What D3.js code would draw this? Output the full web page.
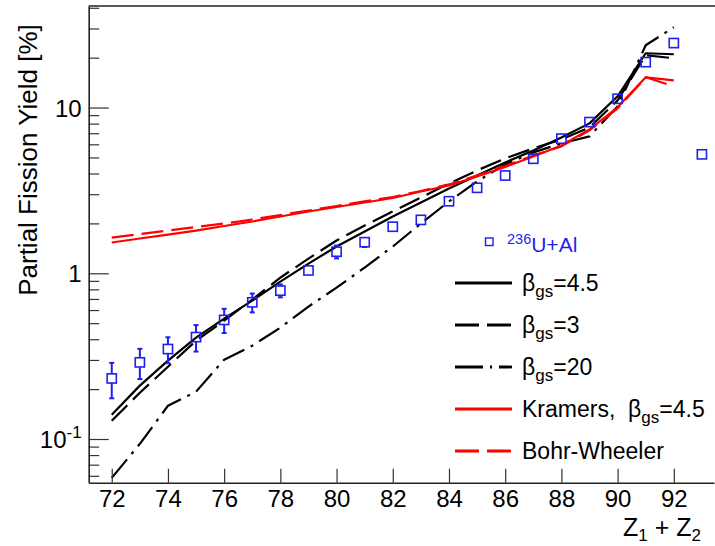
<!DOCTYPE html>
<html>
<head>
<meta charset="utf-8">
<script src="https://cdn.jsdelivr.net/npm/d3@7"></script>
<style>
  body { margin: 0; background: #fff; }
  svg { display: block; font-family: "Liberation Sans", Arial, sans-serif; }
</style>
</head>
<body>
<svg id="chart" width="715" height="546"></svg>
<script>
// Z1 + Z2 of the model curves
const modelCharges = [72, 73, 74, 75, 76, 77, 78, 79, 80, 81, 82, 83, 84, 85, 86, 87, 88, 89, 90, 91, 92];
// Z1 + Z2 of the measured points
const dataCharges = [72, 73, 74, 75, 76, 77, 78, 79, 80, 81, 82, 83, 84, 85, 86, 87, 88, 89, 90, 91, 92, 93];

// 236U+Al partial fission yields [%] and their errors
const measured = [0.232, 0.290, 0.349, 0.412, 0.523, 0.668, 0.786, 1.04, 1.35, 1.54, 1.91, 2.10, 2.72, 3.28, 3.89, 4.91, 6.49, 8.17, 11.3, 18.8, 24.5, 5.22];
const measuredErr = [0.056, 0.060, 0.062, 0.075, 0.087, 0.087, 0.07, 0.06, 0.12, 0.10, 0, 0, 0, 0, 0, 0, 0, 0, 0, 0, 0, 0];

// model calculations [%]
const beta45 = [0.140, 0.210, 0.297, 0.409, 0.532, 0.684, 0.891, 1.144, 1.450, 1.786, 2.201, 2.674, 3.249, 3.894, 4.666, 5.513, 6.605, 8.026, 11.69, 21.26, 20.97];
const beta3 = [0.1288, 0.1902, 0.2731, 0.3922, 0.5178, 0.6935, 0.942, 1.227, 1.576, 1.942, 2.360, 2.867, 3.483, 4.174, 4.933, 5.668, 6.425, 7.593, 11.05, 20.68, 19.83];
const beta20 = [0.0583, 0.0935, 0.1587, 0.1929, 0.3010, 0.3657, 0.4697, 0.6293, 0.8196, 1.082, 1.450, 1.997, 2.713, 3.582, 4.538, 5.362, 6.077, 6.699, 10.17, 23.76, 30.52];
const kramers45 = [1.533, 1.621, 1.713, 1.811, 1.929, 2.053, 2.201, 2.360, 2.512, 2.674, 2.847, 3.116, 3.388, 3.839, 4.383, 5.072, 5.910, 7.385, 10.03, 15.22, 14.60];
const bohrWheeler = [1.643, 1.725, 1.811, 1.902, 1.997, 2.111, 2.247, 2.392, 2.547, 2.713, 2.887, 3.138, 3.436, 3.894, 4.444, 5.143, 5.829, 7.282, 9.89, 15.22, 13.43];

// axis ticks
const xTicks = [72, 74, 76, 78, 80, 82, 84, 86, 88, 90, 92];
const yMajorTicks = [0.1, 1, 10];
const yMajorLabels = [["10", "-1"], ["1", ""], ["10", ""]];
const yMinorTicks = [0.06, 0.07, 0.08, 0.09, 0.2, 0.3, 0.4, 0.5, 0.6, 0.7, 0.8, 0.9, 2, 3, 4, 5, 6, 7, 8, 9, 20, 30, 40];

const svg = d3.select("#chart");
const plotLeft = 88.7, plotRight = 714, plotTop = 6, plotBottom = 482.7;

const x = d3.scaleLinear().domain([71.18, 93.43]).range([plotLeft, plotRight]);
const y = d3.scaleLog().domain([0.0545, 41]).range([plotBottom, plotTop]);

const BLUE = "#1f1ff0";
const RED = "#ff0000";

// clip for plotted curves
svg.append("defs").append("clipPath").attr("id", "plotArea")
  .append("rect").attr("x", plotLeft).attr("y", plotTop)
  .attr("width", plotRight - plotLeft).attr("height", plotBottom - plotTop);

// ---- model curves ----
const curves = [
  { values: beta45, color: "#000", dash: null },
  { values: beta3, color: "#000", dash: "22,8" },
  { values: beta20, color: "#000", dash: "24,7,3,7" },
  { values: kramers45, color: RED, dash: null },
  { values: bohrWheeler, color: RED, dash: "22,8" }
];
const line = d3.line().x(d => x(d[0])).y(d => y(d[1]));
const curveLayer = svg.append("g").attr("clip-path", "url(#plotArea)");
curves.forEach(c => {
  curveLayer.append("path")
    .datum(modelCharges.map((z, i) => [z, c.values[i]]))
    .attr("d", line)
    .attr("fill", "none")
    .attr("stroke", c.color)
    .attr("stroke-width", 2.2)
    .attr("stroke-linejoin", "round")
    .attr("stroke-dasharray", c.dash);
});

// ---- measured points ----
const half = 4.6;
const pts = svg.append("g");
dataCharges.forEach((z, i) => {
  const cx = x(z), v = measured[i], e = measuredErr[i];
  const cy = y(v);
  if (e > 0) {
    const yHi = y(v + e), yLo = y(v - e);
    const g = pts.append("g").attr("stroke", BLUE).attr("stroke-width", 2);
    if (yHi < cy - half) {
      g.append("line").attr("x1", cx).attr("x2", cx).attr("y1", yHi).attr("y2", cy - half);
      g.append("line").attr("x1", cx - 2.5).attr("x2", cx + 2.5).attr("y1", yHi).attr("y2", yHi);
    }
    if (yLo > cy + half) {
      g.append("line").attr("x1", cx).attr("x2", cx).attr("y1", cy + half).attr("y2", yLo);
      g.append("line").attr("x1", cx - 2.5).attr("x2", cx + 2.5).attr("y1", yLo).attr("y2", yLo);
    }
  }
  pts.append("rect")
    .attr("x", cx - half).attr("y", cy - half)
    .attr("width", 2 * half).attr("height", 2 * half)
    .attr("fill", "none").attr("stroke", BLUE).attr("stroke-width", 1.6);
});

// ---- frame and axes ----
svg.append("line").attr("x1", plotLeft).attr("x2", plotRight + 2).attr("y1", plotTop).attr("y2", plotTop)
  .attr("stroke", "#222").attr("stroke-width", 1.6);

const xAxis = svg.append("g").attr("transform", `translate(0,${plotBottom})`)
  .call(d3.axisBottom(x).tickValues(xTicks).tickSizeInner(-14).tickSizeOuter(0).tickPadding(7).tickFormat(d3.format("d")));
xAxis.select(".domain").attr("stroke", "#222").attr("stroke-width", 1.6);
xAxis.selectAll(".tick line").attr("stroke", "#333").attr("stroke-width", 1.2);
xAxis.selectAll(".tick text").attr("font-size", 24).attr("fill", "#000")
  .attr("font-family", "Liberation Sans, Arial, sans-serif");

const yMinor = svg.append("g").attr("transform", `translate(${plotLeft},0)`)
  .call(d3.axisLeft(y).tickValues(yMinorTicks).tickSizeInner(-10.5).tickSizeOuter(0).tickFormat(""));
yMinor.select(".domain").remove();
yMinor.selectAll(".tick line").attr("stroke", "#333").attr("stroke-width", 1.2);

const yAxis = svg.append("g").attr("transform", `translate(${plotLeft},0)`)
  .call(d3.axisLeft(y).tickValues(yMajorTicks).tickSizeInner(-20).tickSizeOuter(0).tickPadding(7).tickFormat(""));
yAxis.select(".domain").attr("stroke", "#222").attr("stroke-width", 1.6);
yAxis.selectAll(".tick line").attr("stroke", "#333").attr("stroke-width", 1.2);
yAxis.selectAll(".tick").each(function (d, i) {
  const t = d3.select(this).select("text")
    .attr("font-size", 24).attr("fill", "#000").attr("dy", "0.36em")
    .attr("font-family", "Liberation Sans, Arial, sans-serif");
  const [base, sup] = yMajorLabels[i];
  t.text(null);
  t.append("tspan").text(base);
  if (sup) t.append("tspan").attr("font-size", 17).attr("dy", "-0.6em").text(sup);
});

// axis titles
svg.append("text")
  .attr("transform", "translate(37,160) rotate(-90)")
  .attr("text-anchor", "middle")
  .attr("font-size", 26).attr("fill", "#000")
  .text("Partial Fission Yield [%]");

const xTitle = svg.append("text")
  .attr("x", 701).attr("y", 536).attr("text-anchor", "end")
  .attr("font-size", 25).attr("fill", "#000");
xTitle.append("tspan").text("Z");
xTitle.append("tspan").attr("font-size", 17).attr("dy", 5).text("1");
xTitle.append("tspan").attr("dy", -5).text("\u00a0+ Z");
xTitle.append("tspan").attr("font-size", 17).attr("dy", 5).text("2");

// ---- legend ----
const legend = svg.append("g");
legend.append("rect").attr("x", 485.5).attr("y", 238).attr("width", 7.5).attr("height", 7.5)
  .attr("fill", "none").attr("stroke", BLUE).attr("stroke-width", 1.4);
const dataLabel = legend.append("text").attr("x", 507).attr("y", 252).attr("fill", BLUE).attr("font-size", 21);
dataLabel.append("tspan").attr("font-size", 14.5).attr("dy", -8).text("236");
dataLabel.append("tspan").attr("dy", 8).text("U+Al");

const legendRows = [
  { color: "#000", dash: null, label: [["β", 0], ["gs", 1], ["=4.5", 0]] },
  { color: "#000", dash: "24,8", label: [["β", 0], ["gs", 1], ["=3", 0]] },
  { color: "#000", dash: "28,7,2,7", label: [["β", 0], ["gs", 1], ["=20", 0]] },
  { color: RED, dash: null, label: [["Kramers,\u00a0\u00a0β", 0], ["gs", 1], ["=4.5", 0]] },
  { color: RED, dash: "24,8", label: [["Bohr-Wheeler", 0]] }
];
const rowY = [283, 325, 367, 409, 451];
legendRows.forEach((r, i) => {
  legend.append("line").attr("x1", 455).attr("x2", 512).attr("y1", rowY[i]).attr("y2", rowY[i])
    .attr("stroke", r.color).attr("stroke-width", 2.8).attr("stroke-dasharray", r.dash);
  const t = legend.append("text").attr("x", 522).attr("y", rowY[i] + 8).attr("font-size", 23).attr("fill", "#000");
  let sub = 0;
  r.label.forEach(([s, isSub]) => {
    const dy = isSub ? 6 : (sub ? -6 : 0);
    t.append("tspan").attr("dy", dy).attr("font-size", isSub ? 17 : 23).text(s);
    sub = isSub;
  });
});
</script>
</body>
</html>
